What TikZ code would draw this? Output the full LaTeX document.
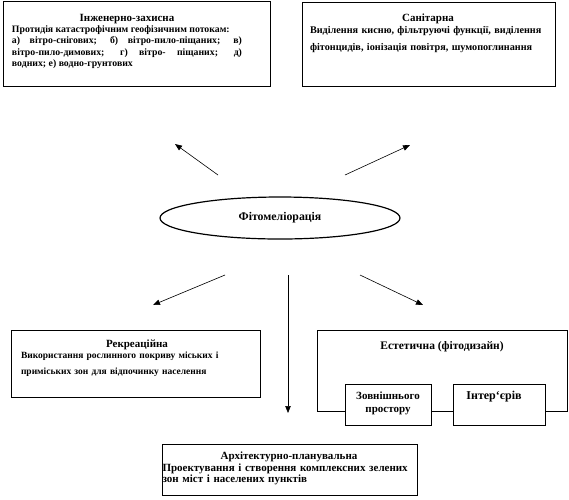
\documentclass[tikz,border=0pt]{standalone}
\usepackage{fontspec}
\setmainfont{Liberation Serif}
\usetikzlibrary{arrows.meta,shapes.geometric}
\newcommand{\fs}[2]{\fontsize{#1}{#2}\selectfont}
\newcommand{\ttl}[1]{\makebox[\linewidth][c]{\fs{11}{11}#1}}
\begin{document}
\begin{tikzpicture}[x=1pt,y=-1pt,
 box/.style={draw,line width=0.9pt,inner sep=0pt,anchor=north west,fill=white},
 txt/.style={anchor=north,inner sep=0pt,font=\bfseries\fs{11}{11}},
 arr/.style={line width=0.6pt,-{Triangle[length=7pt,width=5.5pt]}}
]
\useasboundingbox (0,0) rectangle (569,499);
% boxes
\node[box,minimum width=267pt,minimum height=85pt] (b1) at (3,1) {};
\node[box,minimum width=253pt,minimum height=84pt] (b2) at (302,2) {};
\node[box,minimum width=249pt,minimum height=67pt] (b3) at (11,330) {};
\node[box,minimum width=250pt,minimum height=81pt] (b4) at (317,330) {};
\node[box,minimum width=86pt,minimum height=41pt] (s1) at (345,384) {};
\node[box,minimum width=92pt,minimum height=41pt] (s2) at (453,384) {};
\node[box,minimum width=255pt,minimum height=51pt] (b5) at (162,444) {};
% texts
\node[txt,text width=230pt,align=justify,font=\bfseries\fs{9.8}{11.2}] (t1) at (127,14)
 {\ttl{Інженерно-захисна}\\
 Протидія катастрофічним геофізичним потокам:\\
 а) вітро-снігових; б) вітро-пило-піщаних; в)\linebreak
 вітро-пило-димових; г) вітро- піщаних; д)\linebreak
 водних; е) водно-грунтових};
\node[txt,text width=236pt,align=left,font=\bfseries\fs{10.2}{11.2}] (t2) at (428,14)
 {\ttl{Санітарна}\\
 Виділення кисню, фільтруючі функції, виділення\\[6pt]
 фітонцидів, іонізація повітря, шумопоглинання};
\node[txt,text width=232pt,align=left,font=\bfseries\fs{9.5}{11}] (t3) at (137,340)
 {\ttl{Рекреаційна}\\
 Використання рослинного покриву міських і\\[5pt]
 приміських зон для відпочинку населення};
\node[txt,font=\bfseries\fs{11.5}{11}] (t4) at (442,341) {Естетична (фітодизайн)};
\node[txt,align=center] (t5) at (388,392) {Зовнішнього\\[2pt]простору};
\node[txt,font=\bfseries\fs{12}{12}] (t6) at (494,391) {Інтер`єрів};
\node[txt,text width=253pt,align=left,font=\bfseries\fs{11}{11.5}] (t7) at (289,452)
 {\ttl{Архітектурно-планувальна}\\
 Проектування і створення комплексних зелених\\
 зон міст і населених пунктів};
% ellipse
\node[draw,ellipse,line width=1.2pt,minimum width=240pt,minimum height=42pt,inner sep=0pt,
 font=\bfseries\fs{11.8}{12}] (e) at (280,218) {Фітомеліорація};
% arrows
\coordinate (a1s) at (218,175); \coordinate (a1e) at (175,144);
\coordinate (a2s) at (345,175); \coordinate (a2e) at (410,145);
\coordinate (a3s) at (225,275); \coordinate (a3e) at (153,305);
\coordinate (a4s) at (360,275); \coordinate (a4e) at (423,305);
\coordinate (a5s) at (288,275); \coordinate (a5e) at (288,413);
\draw[arr] (a1s) -- (a1e);
\draw[arr] (a2s) -- (a2e);
\draw[arr] (a3s) -- (a3e);
\draw[arr] (a4s) -- (a4e);
\draw[arr] (a5s) -- (a5e);
\end{tikzpicture}
\end{document}
